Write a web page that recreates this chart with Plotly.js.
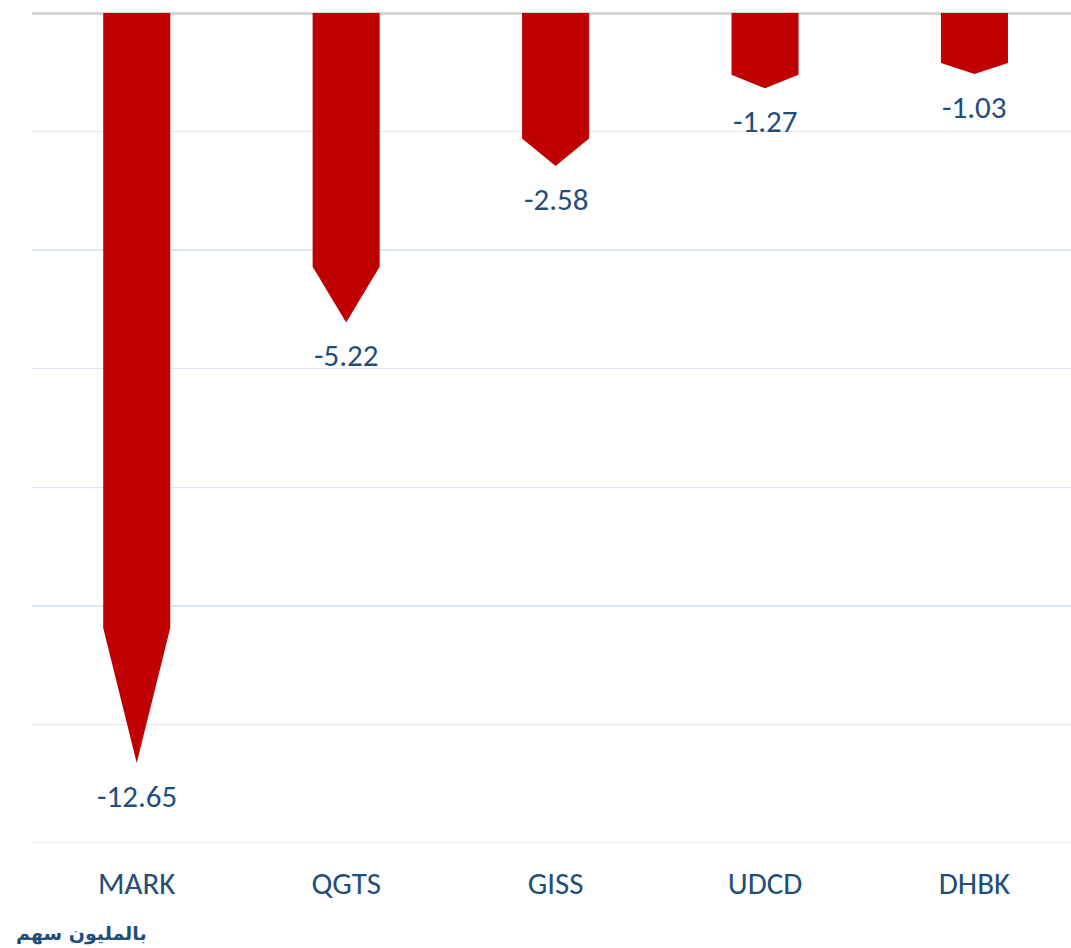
<!DOCTYPE html>
<html>
<head>
<meta charset="utf-8">
<script src="https://cdn.plot.ly/plotly-3.0.1.min.js"></script>
<style>html,body{margin:0;padding:0;background:#fff;}#chart{width:1071px;height:948px;}</style>
</head>
<body>
<div id="chart"></div>
<script>
const categories = ["MARK", "QGTS", "GISS", "UDCD", "DHBK"];
const values = [-12.65, -5.22, -2.58, -1.27, -1.03];
const valueLabels = ["-12.65", "-5.22", "-2.58", "-1.27", "-1.03"];
const unitLabel = "بالمليون سهم";
const yMin = -14;

const halfW = 0.16;
const headFrac = 0.82;
const px = [], py = [];
values.forEach((v, i) => {
  px.push(i - halfW, i + halfW, i + halfW, i, i - halfW, i - halfW, null);
  py.push(0, 0, v * headFrac, v, v * headFrac, 0, null);
});

const textColor = "#1F4E79";
const fontFam = "Carlito, Lato, 'Open Sans', sans-serif";

const traces = [{
  type: "scatter", mode: "lines", x: px, y: py, fill: "toself",
  fillcolor: "#C00000", line: {color: "#C00000", width: 0},
  hoverinfo: "skip", showlegend: false
}];

const annotations = values.map((v, i) => ({
  x: i, y: v, xref: "x", yref: "y", text: valueLabels[i], showarrow: false,
  yanchor: "middle", yshift: -33, font: {family: fontFam, size: 31, color: textColor}
}));
annotations.push({
  x: (149 - 32) / 1039, y: -(933 - 843) / 830, xref: "paper", yref: "paper",
  xanchor: "right", yanchor: "middle", text: "<b>" + unitLabel + "</b>", showarrow: false,
  font: {family: "'DejaVu Sans', sans-serif", size: 19, color: textColor}
});

const layout = {
  width: 1071, height: 948,
  margin: {l: 32, r: 0, t: 13, b: 105},
  paper_bgcolor: "#fff", plot_bgcolor: "#fff",
  showlegend: false,
  xaxis: {
    range: [-0.5, 4.461], tickvals: categories.map((c, i) => i), ticktext: categories,
    showgrid: false, zeroline: false, showline: false, ticks: "",
    tickfont: {family: fontFam, size: 31, color: textColor}, ticklabelstandoff: 19,
    fixedrange: true
  },
  yaxis: {
    range: [yMin, 0], dtick: 2, tick0: 0, showticklabels: false, ticks: "",
    showgrid: true, gridcolor: "#DDE7F3", gridwidth: 1.5,
    zeroline: true, zerolinecolor: "#D6D6D6", zerolinewidth: 3, showline: false,
    fixedrange: true
  },
  shapes: [{
    type: "line", xref: "paper", yref: "y", x0: 0, x1: 1, y0: yMin, y1: yMin,
    line: {color: "#DDE7F3", width: 1.5}, layer: "below"
  }],
  annotations: annotations
};

Plotly.newPlot("chart", traces, layout, {displayModeBar: false, staticPlot: true});
</script>
</body>
</html>
